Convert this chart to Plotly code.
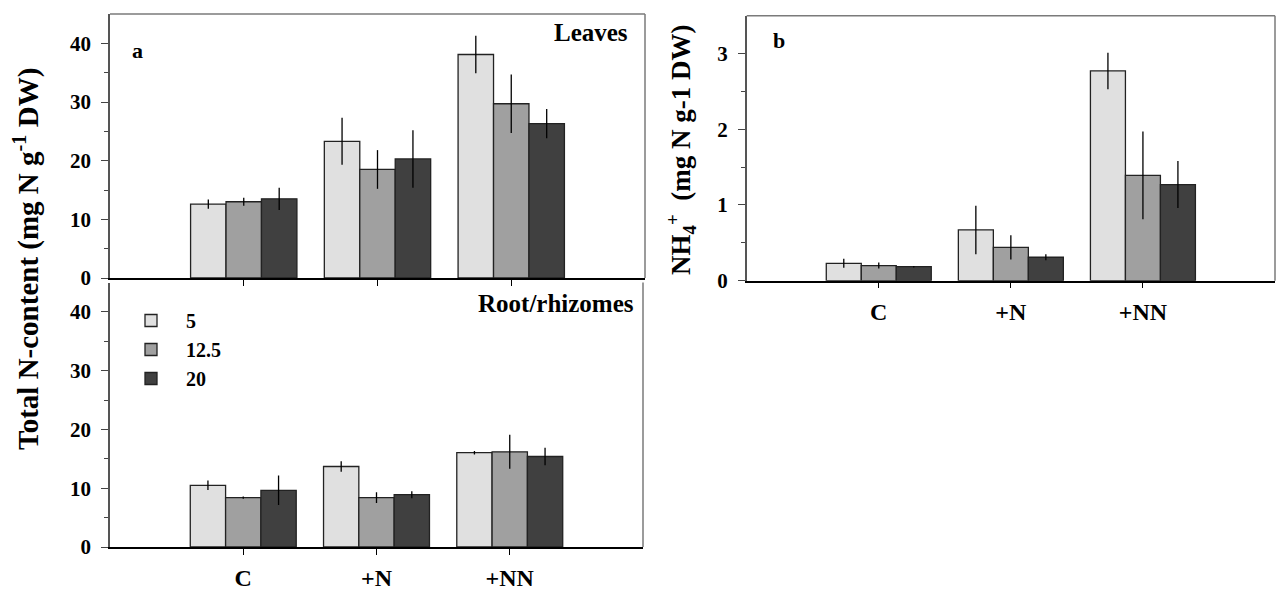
import plotly.graph_objects as go

# ---------------- data ----------------
categories = ["C", "+N", "+NN"]
series_names = ["5", "12.5", "20"]
colors = ["#e0e0e0", "#a0a0a0", "#404040"]

# Panel a, Leaves: total N-content (mg N g-1 DW)
leaves_5 = [12.6, 23.3, 38.1]
leaves_5_err = [0.8, 4.0, 3.2]
leaves_12 = [13.0, 18.5, 29.7]
leaves_12_err = [0.7, 3.3, 5.0]
leaves_20 = [13.5, 20.3, 26.3]
leaves_20_err = [1.9, 4.9, 2.5]

# Panel a, Root/rhizomes
roots_5 = [10.5, 13.7, 16.05]
roots_5_err = [0.8, 0.9, 0.3]
roots_12 = [8.4, 8.4, 16.2]
roots_12_err = [0.2, 0.9, 2.9]
roots_20 = [9.65, 8.9, 15.4]
roots_20_err = [2.5, 0.6, 1.5]

# Panel b, NH4+ (mg N g-1 DW)
nh4_5 = [0.23, 0.67, 2.77]
nh4_5_err = [0.06, 0.32, 0.24]
nh4_12 = [0.20, 0.44, 1.39]
nh4_12_err = [0.04, 0.16, 0.58]
nh4_20 = [0.185, 0.31, 1.27]
nh4_20_err = [0.01, 0.04, 0.31]

leaf_tickvals = [0, 10, 20, 30, 40]
nh4_tickvals = [0, 1, 2, 3]

# ---------------- figure ----------------
W, H = 1277, 590
FONT = "Liberation Serif, Times New Roman, serif"

fig = go.Figure()

panels = [
    ("x", "y", [leaves_5, leaves_12, leaves_20], [leaves_5_err, leaves_12_err, leaves_20_err], False),
    ("x2", "y2", [roots_5, roots_12, roots_20], [roots_5_err, roots_12_err, roots_20_err], True),
    ("x3", "y3", [nh4_5, nh4_12, nh4_20], [nh4_5_err, nh4_12_err, nh4_20_err], False),
]

for xa, ya, vals, errs, show in panels:
    for name, col, v, e in zip(series_names, colors, vals, errs):
        fig.add_trace(go.Bar(
            x=categories, y=v, name=name, xaxis=xa, yaxis=ya,
            marker=dict(color=col, line=dict(color="#222222", width=1.3)),
            error_y=dict(type="data", array=e, color="black", thickness=1.3, width=0),
            showlegend=show, legendgroup=name,
        ))


def px_x(p):
    return p / W


def px_y(p):
    return (H - p) / H


tickfont = dict(family=FONT, size=21, color="black", weight="bold")
catfont = dict(family=FONT, size=24, color="black", weight="bold")

xcommon = dict(type="category", range=[-1, 3], showgrid=False, zeroline=False,
               ticks="outside", ticklen=6, tickcolor="black", tickwidth=1.3,
               linecolor="black", linewidth=1.5, showline=True, automargin=False)
ycommon = dict(showgrid=False, zeroline=False, ticks="outside", ticklen=7,
               tickcolor="#444", tickwidth=1.3, linecolor="#555", linewidth=1.5,
               showline=True, tickfont=tickfont, ticklabelstandoff=6, automargin=False)

fig.update_layout(
    width=W, height=H, autosize=False,
    margin=dict(l=0, r=0, t=0, b=0, pad=0, autoexpand=False),
    paper_bgcolor="white", plot_bgcolor="white",
    barmode="group", bargap=0.205, bargroupgap=0,
    xaxis=dict(domain=[px_x(110), px_x(645)], anchor="y", showticklabels=False, **xcommon),
    yaxis=dict(domain=[px_y(278), px_y(14)], anchor="x", range=[0, 45],
               tickvals=leaf_tickvals,
               minor=dict(tickvals=[5, 15, 25, 35], ticks="outside", ticklen=4, tickcolor="#444"),
               **ycommon),
    xaxis2=dict(domain=[px_x(110), px_x(643)], anchor="y2", tickfont=catfont,
                ticklabelstandoff=2, **xcommon),
    yaxis2=dict(domain=[px_y(547), px_y(282.6)], anchor="x2", range=[0, 45],
                tickvals=leaf_tickvals,
                minor=dict(tickvals=[5, 15, 25, 35], ticks="outside", ticklen=4, tickcolor="#444"),
                **ycommon),
    xaxis3=dict(domain=[px_x(746.7), px_x(1275)], anchor="y3", tickfont=catfont,
                ticklabelstandoff=3, **xcommon),
    yaxis3=dict(domain=[px_y(280.7), px_y(15.7)], anchor="x3", range=[0, 3.5],
                tickvals=nh4_tickvals,
                minor=dict(tickvals=[0.5, 1.5, 2.5], ticks="outside", ticklen=4, tickcolor="#444"),
                **ycommon),
    legend=dict(x=px_x(116), y=px_y(301), xanchor="left", yanchor="top",
                font=dict(family=FONT, size=20, color="black", weight="bold"),
                itemwidth=60, tracegroupgap=0,
                bgcolor="rgba(0,0,0,0)", traceorder="normal", itemclick=False),
)

# panel borders (top/right frame lines)
border = dict(color="#7a7a7a", width=1.5)
for xr, yr, top in [("x domain", "y domain", True), ("x2 domain", "y2 domain", False),
                    ("x3 domain", "y3 domain", True)]:
    if top:
        fig.add_shape(type="line", xref=xr, yref=yr, x0=0, x1=1, y0=1, y1=1, line=border)
    fig.add_shape(type="line", xref=xr, yref=yr, x0=1, x1=1, y0=0, y1=1, line=border)

labfont = dict(family=FONT, size=25, color="black", weight="bold")
fig.add_annotation(text="a", xref="paper", yref="paper", x=px_x(130), y=px_y(50),
                   xanchor="left", yanchor="middle", showarrow=False, font=dict(labfont, size=22))
fig.add_annotation(text="Leaves", xref="paper", yref="paper", x=px_x(630), y=px_y(32),
                   xanchor="right", yanchor="middle", showarrow=False, font=labfont)
fig.add_annotation(text="Root/rhizomes", xref="paper", yref="paper", x=px_x(636), y=px_y(303),
                   xanchor="right", yanchor="middle", showarrow=False, font=labfont)
fig.add_annotation(text="b", xref="paper", yref="paper", x=px_x(771), y=px_y(40),
                   xanchor="left", yanchor="middle", showarrow=False, font=dict(labfont, size=22))

fig.add_annotation(text="Total N-content (mg N g<sup>-1</sup> DW)", xref="paper", yref="paper",
                   x=px_x(26), y=px_y(259), textangle=-90, showarrow=False,
                   xanchor="center", yanchor="middle",
                   font=dict(family=FONT, size=29, color="black", weight="bold"))
fig.add_annotation(text="NH<sub>4</sub><sup>+</sup>  (mg N g-1 DW)", xref="paper", yref="paper",
                   x=px_x(681), y=px_y(150), textangle=-90, showarrow=False,
                   xanchor="center", yanchor="middle",
                   font=dict(family=FONT, size=27, color="black", weight="bold"))

fig.write_html("out.html")
